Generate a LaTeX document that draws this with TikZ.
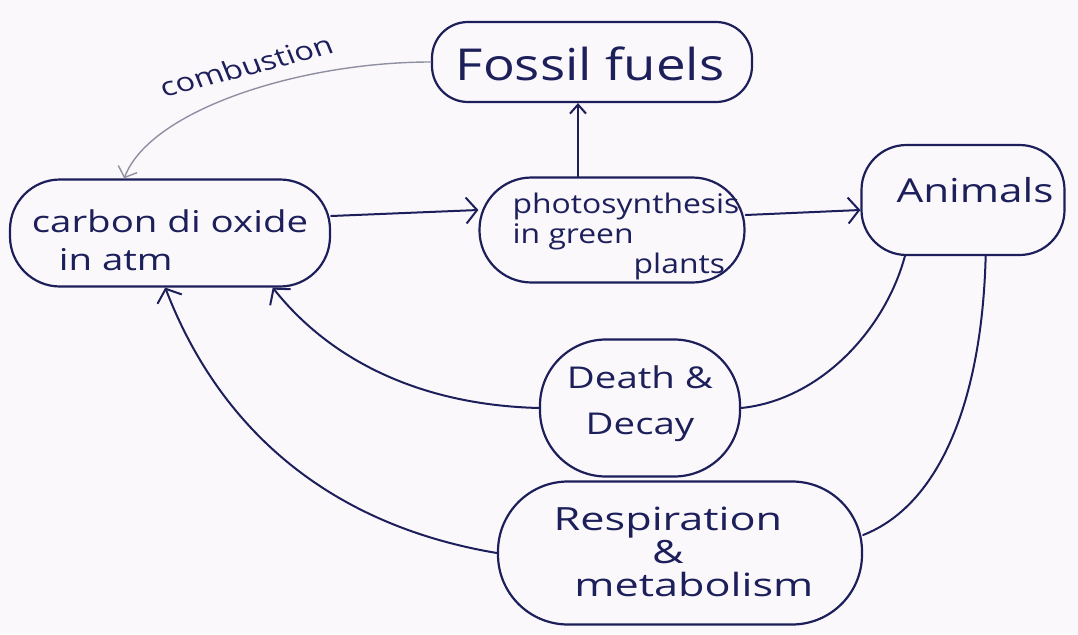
\documentclass[tikz,border=0pt]{standalone}
\usepackage{fontspec}
\setmainfont{Open Sans}
\usetikzlibrary{arrows.meta}
\definecolor{ink}{HTML}{1C1F5A}
\definecolor{paper}{HTML}{FBF8FC}
\definecolor{faint}{HTML}{8E90A2}
\begin{document}
\begin{tikzpicture}[x=1pt,y=-1pt,
  box/.style={draw=ink, line width=2.2pt, rounded corners=#1, inner sep=0pt},
  txt/.style={text=ink, inner sep=0pt, font=\fontsize{30}{36}\selectfont},
  link/.style={draw=ink, line width=2pt, line cap=round},
  tip/.style={-{Straight Barb[length=11pt,width=26pt,line width=2pt]}}]

% canvas
\fill[paper] (0,0) rectangle (1078,634);
\useasboundingbox (0,0) rectangle (1078,634);

% stores and processes
\node[box=36pt, minimum width=320pt, minimum height=80pt]  (ff)   at (592,62)  {};
\node[box=50pt, minimum width=320pt, minimum height=107pt] (co2)  at (170,233) {};
\node[box=52pt, minimum width=265pt, minimum height=105pt] (ps)   at (612,230) {};
\node[box=45pt, minimum width=203pt, minimum height=110pt] (anim) at (963,200) {};
\node[box=66pt, minimum width=200pt, minimum height=137pt] (dd)   at (640,408) {};
\node[box=70pt, minimum width=364pt, minimum height=143pt] (resp) at (680,553) {};

% labels
\node[txt, font=\fontsize{44}{50}\selectfont, xscale=1.2] (ff-t) at (590,64) {Fossil fuels};
\node[txt, align=left, xscale=1.28, font=\fontsize{30}{38}\selectfont] (co2-t) at (170,240)
  {carbon di oxide\\\hspace{0.7em}in atm};
\node[txt, align=left, xscale=1.18, font=\fontsize{27}{30}\selectfont] (ps-t) at (626,236)
  {photosynthesis\\in green\\\hspace{3.8em}plants};
\node[txt, xscale=1.28, font=\fontsize{33}{38}\selectfont] (anim-t) at (975,190) {Animals};
\node[txt, align=center, xscale=1.28, font=\fontsize{30}{46}\selectfont] (dd-t) at (640,404) {Death \&\\Decay};
\node[txt, align=center, xscale=1.35, font=\fontsize{32}{33}\selectfont] (resp-t) at (668,552)
  {Respiration\\\&\\\hspace{1.2em}metabolism};
\node[txt, xscale=1.25, font=\fontsize{26}{30}\selectfont, rotate=18] (comb) at (246,66) {combustion};

% carbon flows
\draw[link, draw=faint, line width=1.4pt, -{Straight Barb[length=9pt,width=20pt,line width=1.4pt]}]
  (ff.west) .. controls (300,62) and (150,110) .. (co2.130);
\draw[link, tip] ([yshift=17pt]co2.east) -- ([yshift=20pt]ps.west);
\draw[link, -{Straight Barb[length=9pt,width=16pt,line width=2pt]}]
  ([xshift=-34pt]ps.north) -- ([xshift=-34pt]ps.north |- ff.south);
\draw[link, tip] ([yshift=15pt]ps.east) -- ([yshift=-10pt]anim.west);
\draw[link] (anim.224) .. controls (885,330) and (820,400) .. (dd.east);
\draw[link, tip] (dd.west) .. controls (420,405) and (330,360) .. (co2.-28);
\draw[link] (anim.-68) .. controls (982,400) and (940,505) .. ([yshift=18pt]resp.east);
\draw[link, tip] (resp.west) .. controls (330,525) and (220,430) .. (co2.265);
\end{tikzpicture}
\end{document}
